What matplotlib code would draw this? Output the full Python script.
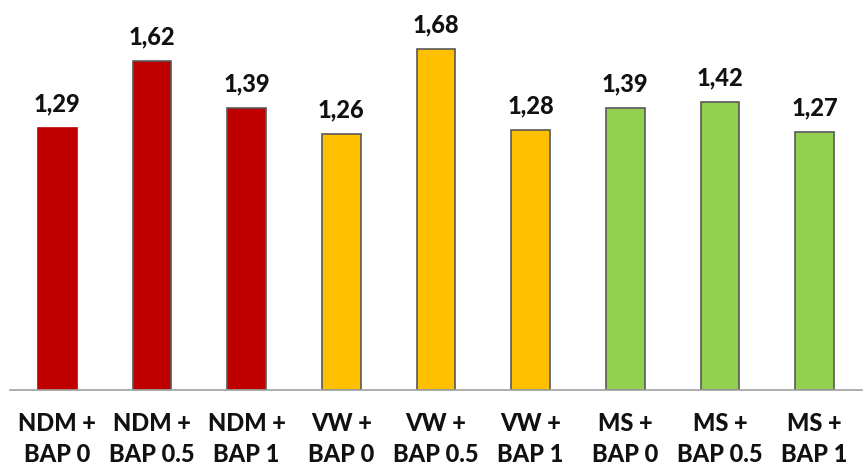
import numpy as np
import matplotlib
matplotlib.use("Agg")
import matplotlib.pyplot as plt

plt.rcParams['font.family'] = ['Lato', 'DejaVu Sans']

# data
labels = ["NDM +\nBAP 0", "NDM +\nBAP 0.5", "NDM +\nBAP 1",
          "VW +\nBAP 0", "VW +\nBAP 0.5", "VW +\nBAP 1",
          "MS +\nBAP 0", "MS +\nBAP 0.5", "MS +\nBAP 1"]
values = [1.29, 1.62, 1.39, 1.26, 1.68, 1.28, 1.39, 1.42, 1.27]
colors = ["#C00000"] * 3 + ["#FFC000"] * 3 + ["#92D050"] * 3
edges = ["#C00000"] + ["#595959"] * 8

fig = plt.figure(figsize=(8.65, 4.68), dpi=100)
ax = fig.add_axes([10 / 865, 78 / 468, 852 / 865, 390 / 468])

x = np.arange(len(values))
bars = ax.bar(x, values, width=0.41, color=colors, edgecolor=edges, linewidth=1.2)

for xi, v in zip(x, values):
    ax.annotate(f"{v:.2f}".replace(".", ","), (xi, v), xytext=(0, 9),
                textcoords="offset points", ha="center", va="bottom",
                fontsize=17, fontweight="black", color="#111111")

ax.set_xlim(-0.5, len(values) - 0.5)
ax.set_ylim(0, 390 / 203)
ax.set_xticks(x)
ax.set_xticklabels(labels, fontsize=17, fontweight="black", color="#111111",
                   linespacing=1.4)
ax.tick_params(axis="x", length=0, pad=16)
ax.set_yticks([])
for s in ["top", "right", "left"]:
    ax.spines[s].set_visible(False)
ax.spines["bottom"].set_color("#A0A0A0")
ax.spines["bottom"].set_linewidth(1.2)

fig.savefig("out.png", dpi=100)
